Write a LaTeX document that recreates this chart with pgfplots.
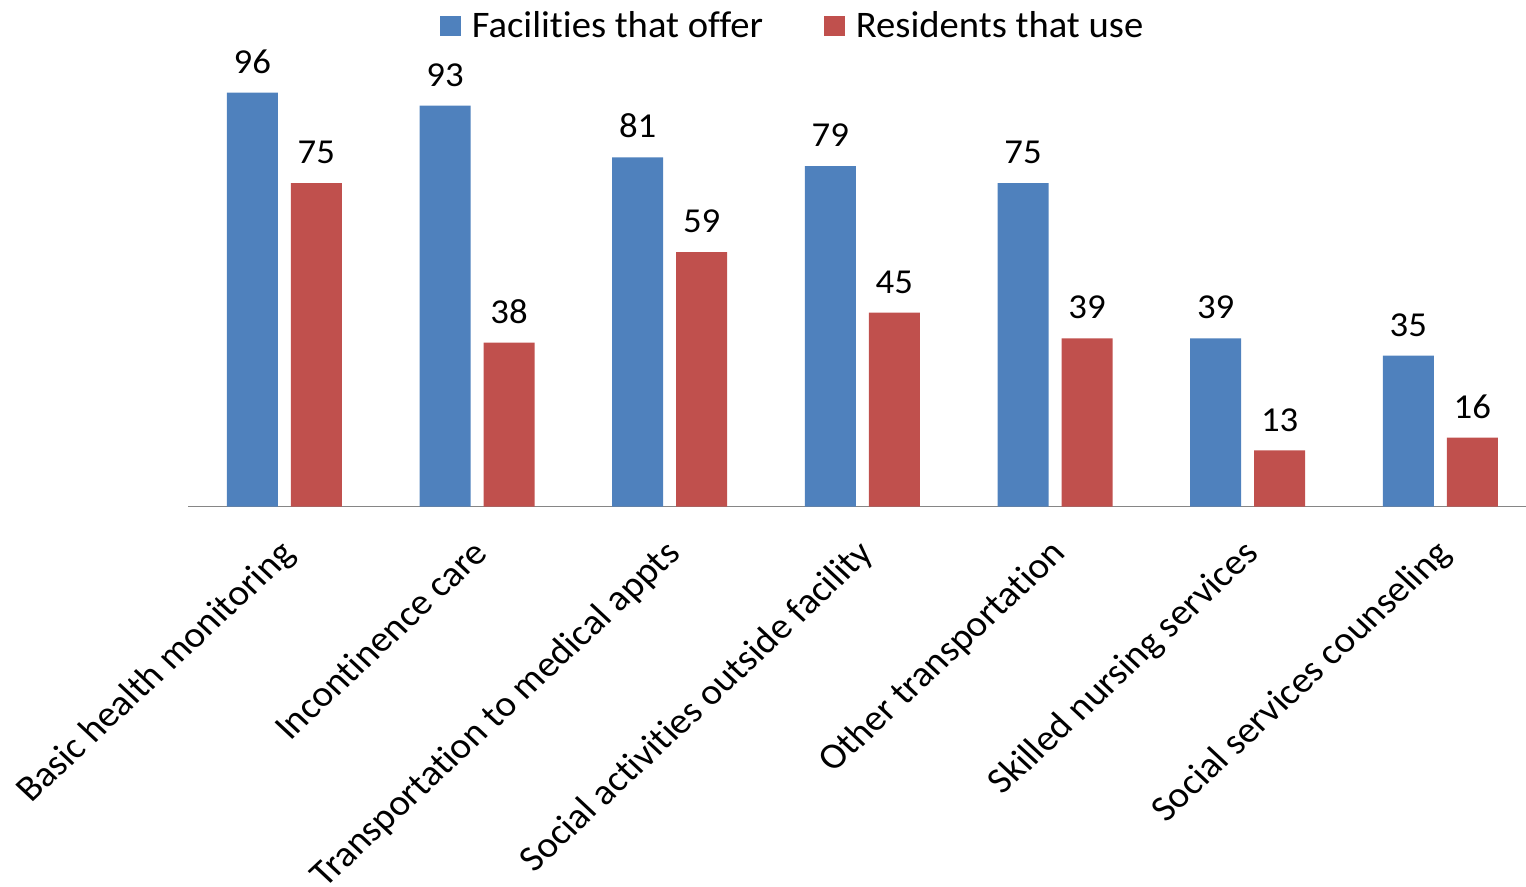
\documentclass[border=0pt]{standalone}
\usepackage{fontspec}
\setmainfont{Carlito}[Ligatures=NoCommon]
\newfontfamily\legfont{Carlito}[Ligatures=NoCommon, FakeStretch=1.03]
\newfontfamily\numfont{Carlito}[Ligatures=NoCommon, FakeStretch=1.05]
\usepackage{pgfplots}
\pgfplotsset{compat=1.18}
\definecolor{barblue}{HTML}{4F81BD}
\definecolor{barred}{HTML}{C0504D}
\definecolor{axisgray}{HTML}{868686}
\begin{document}
\begin{tikzpicture}
\path[use as bounding box] (0,0) rectangle (1526bp,887bp);
\begin{axis}[
  at={(188bp,380.5bp)}, anchor=south west,
  scale only axis, width=1338bp, height=474.1bp,
  xmin=-0.5, xmax=6.4445, ymin=0, ymax=110,
  ybar=13bp, bar width=51bp,
  hide y axis, axis x line*=bottom,
  x axis line style={draw=axisgray, line width=1.5bp, -},
  xtick={0,1,2,3,4,5,6},
  xticklabels={Basic health monitoring, Incontinence care, Transportation to medical appts, Social activities outside facility, Other transportation, Skilled nursing services, Social services counseling},
  major tick length=0pt,
  xticklabel style={font=\fontsize{36.5bp}{44bp}\selectfont, transform shape, xshift=-8bp, yshift=-29.5bp, xscale=1.07, rotate=45, anchor=north east, inner sep=0pt, text height=27bp, text depth=9bp},
  nodes near coords={\pgfmathprintnumber[assume math mode=true]{\pgfplotspointmeta}},
  every node near coord/.append style={font=\numfont\fontsize{35bp}{42bp}\selectfont, text=black, inner sep=0pt, yshift=19bp},
  clip=false,
  legend columns=2,
  legend image code/.code={\fill[#1] (0bp,-10.4bp) rectangle (20.7bp,9.6bp);},
  legend style={draw=none, fill=none, at={(0.18834,1.0146)}, anchor=west,
    font=\legfont\fontsize{37.5bp}{45bp}\selectfont, inner sep=0pt, nodes={inner sep=0pt},
    column sep=11bp, /tikz/column 2/.style={column sep=61bp}},
]
\addplot[fill=barblue, draw=none] coordinates {(0,96) (1,93) (2,81) (3,79) (4,75) (5,39) (6,35)};
\addplot[fill=barred, draw=none] coordinates {(0,75) (1,38) (2,59) (3,45) (4,39) (5,13) (6,16)};
\legend{Facilities that offer, Residents that use}
\end{axis}
\end{tikzpicture}
\end{document}
